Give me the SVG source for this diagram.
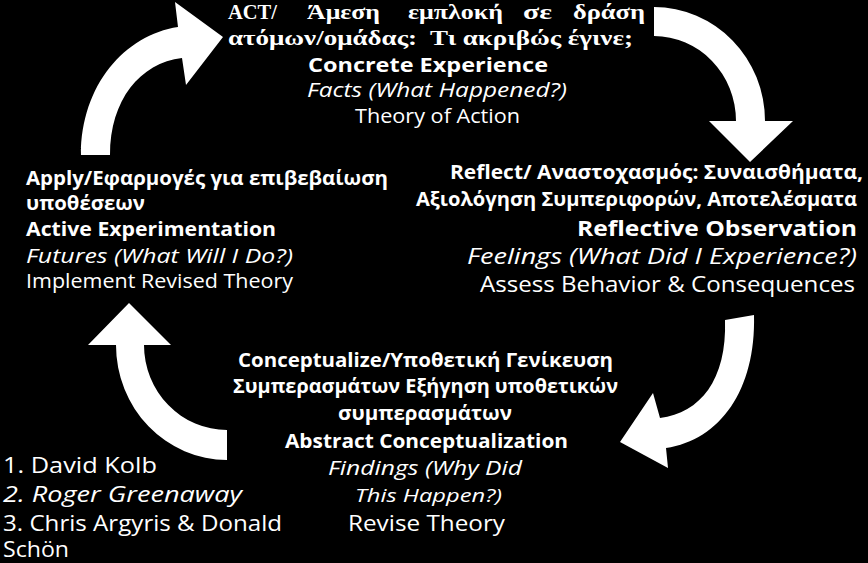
<svg xmlns="http://www.w3.org/2000/svg" width="868" height="563" viewBox="0 0 868 563">
<style>
.s{font-family:"Open Sans","Noto Sans",sans-serif;fill:#fff}
.g{font-family:"Liberation Serif","DejaVu Serif",serif;font-weight:bold;font-size:21px;fill:#fff}
.b{font-weight:bold}
.i{font-style:italic}
.arrow{fill:#fff;stroke:none}
</style>
<rect width="868" height="563" fill="#000"/>
<g id="connectors">
<path class="arrow" d="M81,155 C81,85 125,35 178,27 L175,2 L223,37 L186,85 L182,58 C140,63 110,100 110,155 Z"/>
<path class="arrow" d="M654,7 A111,114 0 0 1 765,121 L793,121 L750,162 L709,121 L736,121 A82,85 0 0 0 654,36 Z"/>
<path class="arrow" d="M725,320 L754,315 C756,390 720,440 666,448 L668,468 L620,442 L653,393 L660,418 C700,413 727,380 725,320 Z"/>
<path class="arrow" d="M129,303 L171,345 L144,345 A83,85 0 0 0 227,430 L227,460 A111,115 0 0 1 116,345 L88,345 Z"/>
</g>
<g id="act">
<text class="g" x="228" y="19" textLength="49" lengthAdjust="spacingAndGlyphs">ACT/</text>
<text class="g" x="307" y="19" textLength="73" lengthAdjust="spacingAndGlyphs">Άμεση</text>
<text class="g" x="408" y="19" textLength="95" lengthAdjust="spacingAndGlyphs">εμπλοκή</text>
<text class="g" x="523" y="19" textLength="29" lengthAdjust="spacingAndGlyphs">σε</text>
<text class="g" x="573" y="19" textLength="72" lengthAdjust="spacingAndGlyphs">δράση</text>
<text class="g" x="228" y="45" textLength="405" lengthAdjust="spacingAndGlyphs">ατόμων/ομάδας:&#160; Τι ακριβώς έγινε;</text>
<text class="s b" x="308" y="72" font-size="20" textLength="240" lengthAdjust="spacingAndGlyphs">Concrete Experience</text>
<text class="s i" x="307" y="97" font-size="20" textLength="260" lengthAdjust="spacingAndGlyphs">Facts (What Happened?)</text>
<text class="s" x="355" y="123" font-size="20" textLength="165" lengthAdjust="spacingAndGlyphs">Theory of Action</text>
</g>
<g id="reflect">
<text class="s b" x="450" y="179" font-size="20" textLength="413" lengthAdjust="spacingAndGlyphs">Reflect/ Αναστοχασμός: Συναισθήματα,</text>
<text class="s b" x="416" y="206" font-size="20" textLength="441" lengthAdjust="spacingAndGlyphs">Αξιολόγηση Συμπεριφορών, Αποτελέσματα</text>
<text class="s b" x="577" y="236" font-size="22" textLength="280" lengthAdjust="spacingAndGlyphs">Reflective Observation</text>
<text class="s i" x="467" y="264" font-size="22" textLength="390" lengthAdjust="spacingAndGlyphs">Feelings (What Did I Experience?)</text>
<text class="s" x="480" y="292" font-size="22" textLength="375" lengthAdjust="spacingAndGlyphs">Assess Behavior &amp; Consequences</text>
</g>
<g id="apply">
<text class="s b" x="26" y="185" font-size="19" textLength="362" lengthAdjust="spacingAndGlyphs">Apply/Εφαρμογές για επιβεβαίωση</text>
<text class="s b" x="26" y="210" font-size="19" textLength="119" lengthAdjust="spacingAndGlyphs">υποθέσεων</text>
<text class="s b" x="26" y="236" font-size="20" textLength="250" lengthAdjust="spacingAndGlyphs">Active Experimentation</text>
<text class="s i" x="26" y="263" font-size="20" textLength="267" lengthAdjust="spacingAndGlyphs">Futures (What Will I Do?)</text>
<text class="s" x="26" y="288" font-size="20" textLength="267" lengthAdjust="spacingAndGlyphs">Implement Revised Theory</text>
</g>
<g id="conceptualize">
<text class="s b" x="238" y="367" font-size="19" textLength="375" lengthAdjust="spacingAndGlyphs">Conceptualize/Υποθετική Γενίκευση</text>
<text class="s b" x="233" y="393" font-size="19" textLength="385" lengthAdjust="spacingAndGlyphs">Συμπερασμάτων Εξήγηση υποθετικών</text>
<text class="s b" x="338" y="420" font-size="19" textLength="174" lengthAdjust="spacingAndGlyphs">συμπερασμάτων</text>
<text class="s b" x="285" y="448" font-size="20" textLength="283" lengthAdjust="spacingAndGlyphs">Abstract Conceptualization</text>
<text class="s i" x="328" y="475" font-size="20" textLength="194" lengthAdjust="spacingAndGlyphs">Findings (Why Did</text>
<text class="s i" x="355" y="502" font-size="19" textLength="147" lengthAdjust="spacingAndGlyphs">This Happen?)</text>
<text class="s" x="348" y="531" font-size="22" textLength="157" lengthAdjust="spacingAndGlyphs">Revise Theory</text>
</g>
<g id="authors">
<text class="s" x="3" y="473" font-size="22" textLength="154" lengthAdjust="spacingAndGlyphs">1. David Kolb</text>
<text class="s i" x="3" y="502" font-size="22" textLength="239" lengthAdjust="spacingAndGlyphs">2. Roger Greenaway</text>
<text class="s" x="3" y="531" font-size="22" textLength="279" lengthAdjust="spacingAndGlyphs">3. Chris Argyris &amp; Donald</text>
<text class="s" x="3" y="557" font-size="21" textLength="66" lengthAdjust="spacingAndGlyphs">Schön</text>
</g>
</svg>
